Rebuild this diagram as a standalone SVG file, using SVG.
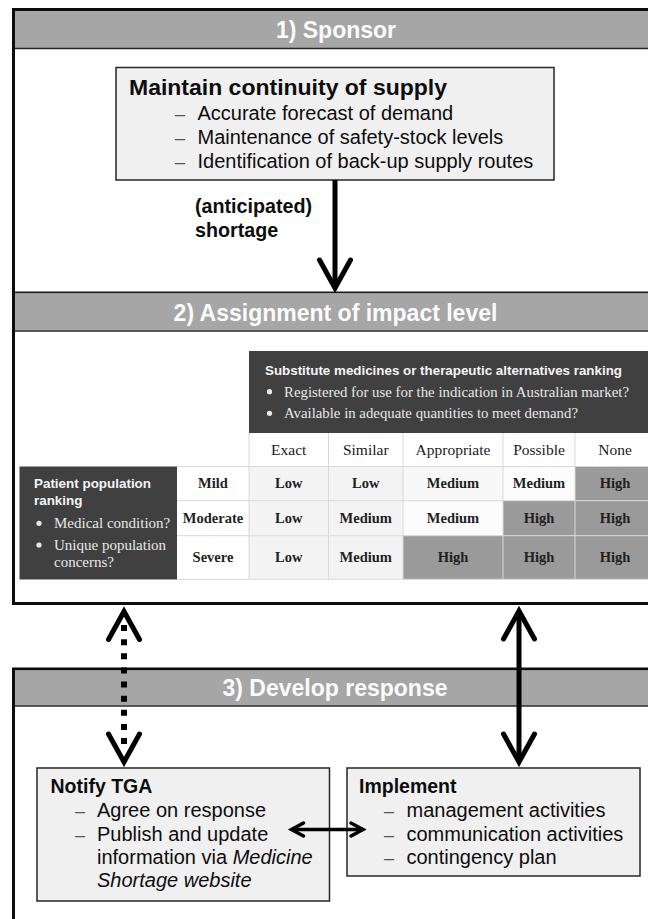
<svg xmlns="http://www.w3.org/2000/svg" width="648" height="919" viewBox="0 0 648 919">
  <style>
    .frame { fill: #ffffff; stroke: #0d0d0d; stroke-width: 3; }
    .hdr { fill: #a6a6a6; }
    .rule { stroke: #262626; stroke-width: 1.5; }
    .hdr-text { font-family: "Liberation Sans", Arial, sans-serif; font-weight: bold; font-size: 23px; fill: #fbfbfb; text-anchor: middle; }
    .box { fill: #f0f0f0; stroke: #262626; stroke-width: 1.5; }
    .box-title { font-family: "Liberation Sans", Arial, sans-serif; font-weight: bold; fill: #0d0d0d; }
    .box-item { font-family: "Liberation Sans", Arial, sans-serif; font-size: 20px; fill: #0d0d0d; }
    .dash { font-family: "Liberation Sans", Arial, sans-serif; font-size: 18px; fill: #555555; }
    .label { font-family: "Liberation Sans", Arial, sans-serif; font-weight: bold; font-size: 19.7px; fill: #0d0d0d; }
    .dark { fill: #404040; }
    .dark-title { font-family: "Liberation Sans", Arial, sans-serif; font-weight: bold; font-size: 13.4px; fill: #f5f5f5; }
    .dark-item { font-family: "Liberation Serif", "Times New Roman", serif; font-size: 15px; fill: #e8e8e8; }
    .bullet { fill: #e8e8e8; }
    .grid { stroke: #d9d9d9; stroke-width: 1; fill: none; }
    .col-head { font-family: "Liberation Serif", "Times New Roman", serif; font-size: 15.5px; fill: #1a1a1a; text-anchor: middle; }
    .cell { font-family: "Liberation Serif", "Times New Roman", serif; font-weight: bold; font-size: 14.5px; fill: #1f1f1f; text-anchor: middle; }
    .c-low { fill: #f3f3f3; }
    .c-mid { fill: #f7f7f7; }
    .c-pale { fill: #fbfbfb; }
    .c-high { fill: #9a9a9a; }
    .c-white { fill: #ffffff; }
    .conn { fill: none; stroke: #000000; stroke-width: 5; }
    .conn-thin { fill: none; stroke: #000000; stroke-width: 3.5; }
    .dots { fill: none; stroke: #000000; stroke-width: 6; stroke-dasharray: 6 8.125; }
  </style>
  <defs>
    <marker id="chev" markerUnits="userSpaceOnUse" orient="auto-start-reverse" viewBox="-40 -20 45 40" refX="0" refY="0" markerWidth="45" markerHeight="40" overflow="visible">
      <path d="M-28,-15.5 L0,0 L-28,15.5" fill="none" stroke="#000000" stroke-width="5" stroke-linecap="round" stroke-linejoin="miter" stroke-dasharray="none"/>
    </marker>
    <marker id="chev-small" markerUnits="userSpaceOnUse" orient="auto-start-reverse" viewBox="-20 -10 25 20" refX="0" refY="0" markerWidth="25" markerHeight="20" overflow="visible">
      <path d="M-12,-6.5 L0,0 L-12,6.5" fill="none" stroke="#000000" stroke-width="3.5" stroke-linecap="round" stroke-linejoin="miter"/>
    </marker>
  </defs>

  <!-- Stage 1 and stage 2 panels share one outer frame -->
  <g id="panel-sponsor">
    <rect class="frame" x="13.5" y="9.5" width="650" height="594"/>
    <rect class="hdr" x="15" y="11" width="640" height="37"/>
    <line class="rule" x1="15" y1="48.5" x2="648" y2="48.5"/>
    <text class="hdr-text" x="336" y="37.5">1) Sponsor</text>
  </g>

  <g id="panel-impact">
    <line x1="15" y1="292.5" x2="648" y2="292.5" stroke="#1a1a1a" stroke-width="2"/>
    <rect class="hdr" x="15" y="293.5" width="640" height="37"/>
    <line class="rule" x1="15" y1="331" x2="648" y2="331"/>
    <text class="hdr-text" x="335.5" y="320.5">2) Assignment of impact level</text>
  </g>

  <g id="panel-response">
    <rect class="frame" x="13.5" y="669" width="650" height="300"/>
    <rect class="hdr" x="15" y="670.5" width="640" height="35"/>
    <line class="rule" x1="15" y1="706" x2="648" y2="706"/>
    <text class="hdr-text" x="335" y="695.5">3) Develop response</text>
  </g>

  <!-- Supply continuity box -->
  <g id="node-supply">
    <rect class="box" x="116" y="67.5" width="438" height="112.5"/>
    <text class="box-title" x="129" y="95" font-size="22.5" textLength="318" lengthAdjust="spacingAndGlyphs">Maintain continuity of supply</text>
    <text class="dash" x="175" y="120">–</text>
    <text class="box-item" x="197.5" y="120">Accurate forecast of demand</text>
    <text class="dash" x="175" y="144">–</text>
    <text class="box-item" x="197.5" y="144">Maintenance of safety-stock levels</text>
    <text class="dash" x="175" y="167.5">–</text>
    <text class="box-item" x="197.5" y="167.5">Identification of back-up supply routes</text>
  </g>

  <!-- Impact level matrix -->
  <g id="impact-matrix">
    <rect class="dark" x="249" y="351" width="406" height="82"/>
    <text class="dark-title" x="265" y="375" textLength="357" lengthAdjust="spacingAndGlyphs">Substitute medicines or therapeutic alternatives ranking</text>
    <circle class="bullet" cx="269.5" cy="391.7" r="2.6"/>
    <text class="dark-item" x="284" y="396.7" textLength="345" lengthAdjust="spacingAndGlyphs">Registered for use for the indication in Australian market?</text>
    <circle class="bullet" cx="269.5" cy="413.3" r="2.6"/>
    <text class="dark-item" x="284" y="418.3" textLength="294" lengthAdjust="spacingAndGlyphs">Available in adequate quantities to meet demand?</text>

    <rect class="dark" x="19.5" y="466.5" width="157.5" height="113"/>
    <text class="dark-title" x="34" y="487.5" textLength="117" lengthAdjust="spacingAndGlyphs">Patient population</text>
    <text class="dark-title" x="34" y="505">ranking</text>
    <circle class="bullet" cx="39" cy="523.3" r="2.6"/>
    <text class="dark-item" x="54" y="528.3">Medical condition?</text>
    <circle class="bullet" cx="39" cy="545" r="2.6"/>
    <text class="dark-item" x="54" y="550">Unique population</text>
    <text class="dark-item" x="54" y="566.7">concerns?</text>

    <!-- header row and row labels -->
    <rect class="c-white" x="249" y="433" width="406" height="33.5"/>
    <rect class="c-white" x="177" y="466.5" width="72" height="113"/>

    <!-- Mild -->
    <rect class="c-low" x="249" y="466.5" width="79.5" height="34.2"/>
    <rect class="c-low" x="328.5" y="466.5" width="74.5" height="34.2"/>
    <rect class="c-mid" x="403" y="466.5" width="100" height="34.2"/>
    <rect class="c-pale" x="503" y="466.5" width="72" height="34.2"/>
    <rect class="c-high" x="575" y="466.5" width="80" height="34.2"/>
    <!-- Moderate -->
    <rect class="c-low" x="249" y="500.7" width="79.5" height="35"/>
    <rect class="c-low" x="328.5" y="500.7" width="74.5" height="35"/>
    <rect class="c-pale" x="403" y="500.7" width="100" height="35"/>
    <rect class="c-high" x="503" y="500.7" width="72" height="35"/>
    <rect class="c-high" x="575" y="500.7" width="80" height="35"/>
    <!-- Severe -->
    <rect class="c-low" x="249" y="535.7" width="79.5" height="43.6"/>
    <rect class="c-low" x="328.5" y="535.7" width="74.5" height="43.6"/>
    <rect class="c-high" x="403" y="535.7" width="100" height="43.6"/>
    <rect class="c-high" x="503" y="535.7" width="72" height="43.6"/>
    <rect class="c-high" x="575" y="535.7" width="80" height="43.6"/>

    <path class="grid" d="M328.5,433 V579.3 M403,433 V579.3 M503,433 V579.3 M575,433 V579.3 M249,433 V579.3
                          M177,500.7 H655 M177,535.7 H655 M177,579.3 H655 M177,466.5 H655"/>

    <text class="col-head" x="288.75" y="455">Exact</text>
    <text class="col-head" x="365.75" y="455">Similar</text>
    <text class="col-head" x="453" y="455">Appropriate</text>
    <text class="col-head" x="539" y="455">Possible</text>
    <text class="col-head" x="615" y="455">None</text>

    <text class="cell" x="213" y="488.3">Mild</text>
    <text class="cell" x="288.75" y="488.3">Low</text>
    <text class="cell" x="365.75" y="488.3">Low</text>
    <text class="cell" x="453" y="488.3">Medium</text>
    <text class="cell" x="539" y="488.3">Medium</text>
    <text class="cell" x="615" y="488.3">High</text>

    <text class="cell" x="213" y="523.3">Moderate</text>
    <text class="cell" x="288.75" y="523.3">Low</text>
    <text class="cell" x="365.75" y="523.3">Medium</text>
    <text class="cell" x="453" y="523.3">Medium</text>
    <text class="cell" x="539" y="523.3">High</text>
    <text class="cell" x="615" y="523.3">High</text>

    <text class="cell" x="213" y="562.3">Severe</text>
    <text class="cell" x="288.75" y="562.3">Low</text>
    <text class="cell" x="365.75" y="562.3">Medium</text>
    <text class="cell" x="453" y="562.3">High</text>
    <text class="cell" x="539" y="562.3">High</text>
    <text class="cell" x="615" y="562.3">High</text>
  </g>

  <!-- Response boxes -->
  <g id="node-notify">
    <rect class="box" x="37" y="768" width="292.5" height="133"/>
    <text class="box-title" x="50.5" y="793" font-size="19.5">Notify  TGA</text>
    <text class="dash" x="75" y="817">–</text>
    <text class="box-item" x="97" y="817">Agree on response</text>
    <text class="dash" x="75" y="840.5">–</text>
    <text class="box-item" x="97" y="840.5">Publish and update</text>
    <text class="box-item" x="97" y="864">information via <tspan font-style="italic">Medicine</tspan></text>
    <text class="box-item" x="97" y="887" font-style="italic">Shortage website</text>
  </g>

  <g id="node-implement">
    <rect class="box" x="347" y="768" width="293" height="108"/>
    <text class="box-title" x="359" y="793" font-size="19.5">Implement</text>
    <text class="dash" x="384" y="817">–</text>
    <text class="box-item" x="406.5" y="817">management activities</text>
    <text class="dash" x="384" y="840.5">–</text>
    <text class="box-item" x="406.5" y="840.5">communication activities</text>
    <text class="dash" x="384" y="864">–</text>
    <text class="box-item" x="406.5" y="864">contingency plan</text>
  </g>

  <!-- Arrows -->
  <g id="connectors">
    <path class="conn" d="M335,180 V288" marker-end="url(#chev)"/>
    <text class="label" x="195" y="213">(anticipated)</text>
    <text class="label" x="195" y="237">shortage</text>

    <path class="dots" d="M124,625 V744"/>
    <path d="M124,611.5 V762" fill="none" stroke="none" marker-start="url(#chev)" marker-end="url(#chev)"/>

    <path class="conn" d="M519,611 V762" marker-start="url(#chev)" marker-end="url(#chev)"/>

    <path class="conn-thin" d="M291.5,829.5 H363" marker-start="url(#chev-small)" marker-end="url(#chev-small)"/>
  </g>
</svg>
